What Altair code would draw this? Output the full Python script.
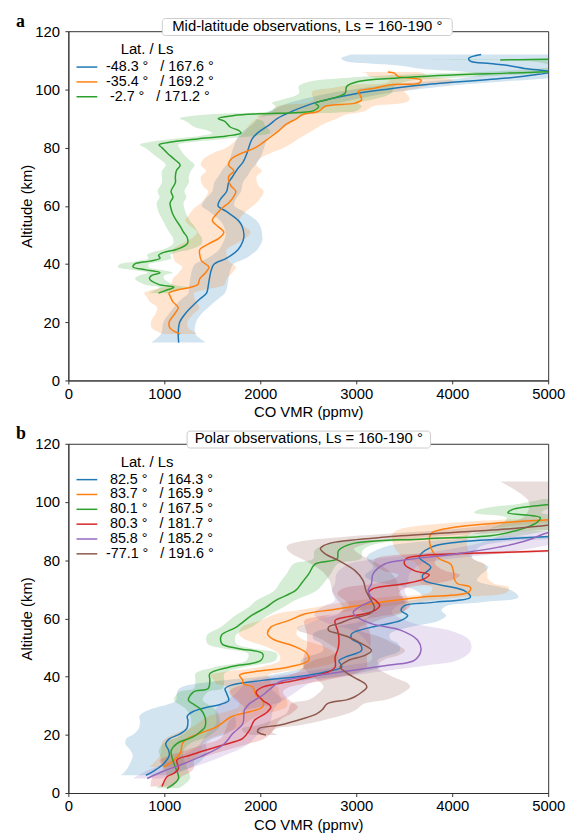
import altair as alt
import pandas as pd

FONT = "Liberation Sans"
X_TICKS = [0, 1000, 2000, 3000, 4000, 5000]
Y_TICKS = [0, 20, 40, 60, 80, 100, 120]
COLORS = ["#1f77b4", "#ff7f0e", "#2ca02c", "#d62728", "#9467bd", "#8c564b"]

TITLE_A = "Mid-latitude observations, Ls = 160-190 °"
TITLE_B = "Polar observations, Ls = 160-190 °"
SEP = "\u00a0°\u00a0\u00a0\u00a0/ "
LEAD = "\u200b\u00a0"
LABELS_A = ["-48.3" + SEP + "167.6\u00a0°",
            "-35.4" + SEP + "169.2\u00a0°",
            LEAD + "-2.7" + SEP + "171.2\u00a0°"]
LABELS_B = [LEAD + "82.5" + SEP + "164.3\u00a0°",
            LEAD + "83.7" + SEP + "165.9\u00a0°",
            LEAD + "80.1" + SEP + "167.5\u00a0°",
            LEAD + "80.3" + SEP + "181.7\u00a0°",
            LEAD + "85.8" + SEP + "185.2\u00a0°",
            "-77.1" + SEP + "191.6\u00a0°"]

# ---------------- panel a : mid-latitude ----------------
A1_ALT = [13, 16, 20, 23, 25, 28, 30, 33, 35, 38, 40, 42, 45, 48, 50, 53, 55, 58, 60, 62,
          65, 68, 70, 73, 75, 78, 80, 83, 85, 88, 90, 92.5, 95.3, 98.7, 100, 101.6, 103.9,
          105.2, 106, 107, 108.3, 108.9, 109.7, 110.7, 112]
A1_VAL = [1150, 1145, 1160, 1220, 1275, 1370, 1440, 1460, 1470, 1490, 1520, 1650, 1770, 1820,
          1830, 1810, 1770, 1650, 1560, 1580, 1650, 1670, 1710, 1770, 1820, 1860, 1880, 1915,
          1970, 2100, 2175, 2333, 2557, 3021, 3300, 3708, 4567, 4900, 5050, 4800, 4567, 4392,
          4189, 4172, 4302]
A1_ERR = [290, 180, 170, 170, 180, 190, 190, 200, 200, 200, 200, 200, 200, 200, 190, 190, 190,
          180, 170, 160, 150, 150, 150, 150, 150, 160, 160, 160, 170, 180, 200, 230, 260, 300,
          330, 380, 450, 600, 900, 1100, 1150, 1250, 1300, 1330, 1350]

A2_ALT = [16, 18, 20, 23, 25, 27, 29, 30, 31, 32, 33, 35, 37, 39, 41, 43, 45, 47, 49, 51, 53,
          55, 57, 59, 61, 63, 65, 67, 70, 72, 74, 76, 78, 80, 83.3, 86, 87.9, 90, 91.3, 92.5,
          94.2, 95.3, 96.4, 98, 99.3, 100.5, 101.6, 102.2, 103.3, 104.5, 105.6, 106]
A2_VAL = [1165, 1060, 1050, 1110, 1145, 1090, 1060, 1050, 1125, 1275, 1350, 1370, 1430, 1465,
          1390, 1370, 1370, 1465, 1575, 1620, 1555, 1500, 1540, 1595, 1670, 1720, 1745, 1690,
          1670, 1725, 1670, 1695, 1800, 1950, 2093, 2200, 2265, 2380, 2437, 2608, 2677, 2987,
          3055, 3040, 3021, 3200, 3364, 3656, 3674, 3433, 3399, 3330]
A2_ERR = [180, 190, 190, 200, 220, 240, 250, 260, 270, 280, 280, 280, 280, 280, 280, 280, 280,
          280, 280, 280, 280, 280, 280, 290, 290, 290, 290, 290, 290, 290, 290, 290, 300, 300,
          320, 350, 380, 420, 450, 480, 500, 500, 500, 500, 480, 450, 400, 350, 320, 300, 300, 300]

A3_ALT = [30, 31, 32, 33, 35, 36, 37, 38, 39, 40, 41, 42, 43, 44, 45, 47, 49, 51, 53, 55, 57,
          59, 61, 63, 65, 68, 70, 72, 74, 76, 78, 80, 81, 82, 83, 84, 85, 86, 87, 89, 90, 91,
          91.6, 92.1, 92.7, 94.2, 95.3, 96.5, 98.7, 101, 102.7, 103.9, 105, 105.6, 106.5, 108,
          109.8, 110.1]
A3_VAL = [940, 1020, 1100, 940, 845, 865, 955, 810, 675, 690, 845, 955, 940, 995, 1125, 1240,
          1240, 1200, 1165, 1125, 1090, 1070, 1060, 1090, 1070, 1115, 1115, 1125, 1165, 1105,
          1035, 975, 945, 1090, 1350, 1650, 1800, 1770, 1690, 1630, 1560, 1725, 1990, 2400,
          2557, 2608, 2574, 2700, 2884, 2900, 3021, 3433, 4052, 4567, 5300, 5800, 5600, 4500]
A3_ERR = [100, 120, 150, 150, 150, 130, 130, 150, 160, 150, 130, 120, 120, 130, 140, 150, 150,
          150, 150, 140, 140, 140, 140, 140, 140, 140, 140, 150, 150, 150, 160, 180, 200, 230,
          260, 280, 300, 330, 370, 400, 400, 400, 400, 420, 450, 450, 450, 470, 480, 500, 500,
          550, 600, 650, 700, 750, 800, 800]

# ---------------- panel b : polar ----------------
B1_ALT = [6.1, 7.8, 10, 12.9, 14.7, 16.9, 18.7, 20.3, 22.3, 24.9, 26.4, 28, 29.3, 30.5, 31.8,
          34.2, 35.8, 37, 38.7, 40, 41.6, 43.3, 45.5, 46.7, 49, 51.3, 53, 54.7, 57, 59.3, 61,
          62.7, 64.4, 65.5, 67.3, 69.6, 73, 74.7, 77.6, 81, 84.4, 86.2, 87.3, 88.2]
B1_VAL = [808, 901, 990, 1051, 1045, 1014, 1055, 1164, 1236, 1246, 1239, 1300, 1427, 1590,
          1671, 1650, 1633, 1690, 2024, 2400, 2677, 2849, 2820, 2884, 3055, 3038, 2952, 2952,
          3158, 3467, 3536, 3467, 3502, 3800, 4189, 4121, 3708, 3690, 3777, 3657, 3777, 4052,
          4567, 5050]
B1_ERR = [260, 300, 350, 380, 400, 420, 450, 480, 500, 500, 500, 500, 520, 550, 550, 520, 480,
          450, 420, 400, 400, 400, 400, 400, 400, 400, 400, 400, 400, 400, 400, 420, 450, 480,
          500, 500, 550, 600, 600, 550, 500, 450, 450, 450]

B2_ALT = [8.9, 10.7, 13.6, 17.6, 20.5, 22.7, 26.2, 27.9, 29.6, 31.9, 33.6, 36.4, 37.6, 38.7,
          40.5, 41.6, 43.3, 45.6, 47.9, 50.2, 53, 54.7, 57, 59.3, 61.6, 63, 64.5, 65.8, 67.3,
          69, 70.7, 72, 74, 75.3, 78.7, 80.5, 84.4, 89, 90.7, 93, 94]
B2_VAL = [993, 1079, 1165, 1199, 1371, 1543, 1700, 1887, 2024, 2024, 1956, 1921, 1818, 1818,
          1784, 1921, 2299, 2505, 2488, 2368, 2127, 2076, 2110, 2299, 2470, 2750, 3050, 3300,
          3674, 4172, 4189, 4052, 4017, 4017, 3983, 3863, 3777, 3777, 3915, 4567, 5050]
B2_ERR = [150, 180, 200, 220, 250, 250, 250, 250, 250, 250, 250, 260, 280, 300, 300, 300, 300,
          300, 300, 300, 300, 300, 300, 300, 300, 320, 350, 380, 400, 400, 400, 380, 350, 350,
          350, 350, 380, 400, 450, 500, 500]

B3_ALT = [1.6, 5, 9, 12.4, 14.6, 17, 19.3, 21.5, 22.7, 26.2, 29, 30.6, 31.9, 34.7, 35.9, 38.7,
          41, 43.3, 45.6, 47.9, 49.6, 51.3, 54.2, 57, 61, 63.8, 66.2, 69.6, 72.5, 75.3, 78.7,
          80.5, 83.3, 85.6, 87.3, 88.4, 90, 91.2, 92.9, 94.6, 96.3, 97.3, 98.3, 99.2, 101]
B3_VAL = [1028, 1148, 1113, 1079, 1072, 1131, 1300, 1390, 1423, 1423, 1371, 1300, 1251, 1302,
          1457, 1474, 1474, 1680, 2007, 2024, 1780, 1600, 1595, 1750, 1910, 2060, 2162, 2368,
          2440, 2505, 2574, 2800, 2815, 2952, 3708, 4400, 4650, 4768, 4880, 4918, 4580, 4620,
          4768, 5020, 5300]
B3_ERR = [120, 120, 120, 120, 130, 140, 150, 150, 150, 150, 150, 150, 150, 150, 150, 150, 150,
          150, 150, 150, 150, 150, 150, 160, 170, 180, 200, 220, 230, 230, 230, 250, 250, 250,
          280, 300, 320, 350, 350, 350, 350, 350, 350, 350, 350]

B4_ALT = [2.2, 5.6, 6.7, 8.5, 11.3, 13, 16.5, 18.8, 21.6, 25, 27.5, 29.6, 31.9, 34.7, 36.4,
          38.7, 41.6, 43.3, 46.7, 50.2, 54.7, 59.3, 60.4, 62.2, 64.4, 66.2, 68.5, 70.2, 71.9,
          73.6, 75, 76.4, 78.7, 80.5, 81.6, 82.7, 83.3]
B4_VAL = [976, 1028, 1096, 1148, 1131, 1268, 1612, 1818, 1887, 1940, 2060, 2110, 2024, 1956,
          2024, 2368, 2711, 2780, 2780, 2815, 2815, 2780, 2884, 3158, 3244, 3200, 3124, 3175,
          3500, 3708, 3760, 3605, 3502, 3519, 3708, 4567, 5050]
B4_ERR = [120, 150, 150, 160, 180, 200, 220, 230, 250, 260, 270, 280, 280, 280, 280, 300, 320,
          330, 330, 330, 330, 320, 320, 320, 320, 320, 320, 320, 320, 320, 320, 320, 320, 320,
          350, 400, 400]

B5_ALT = [5, 7.3, 9.6, 12.4, 16.5, 20.5, 23.9, 28.5, 30.7, 33.6, 36.4, 38.2, 41, 43.9, 45.6,
          49, 52.5, 55.9, 58.2, 61, 62.2, 64.4, 66.2, 69.6, 71.9, 75.3, 78.7, 79.9, 82.2, 85,
          87, 89, 90]
B5_VAL = [822, 976, 1165, 1371, 1612, 1715, 1818, 1835, 1887, 2024, 2127, 2200, 2712, 3330,
          3605, 3674, 3640, 3467, 3158, 2987, 2969, 3055, 3158, 3124, 3158, 3175, 3296, 3467,
          4052, 4567, 4800, 4950, 5050]
B5_ERR = [150, 180, 200, 220, 250, 270, 280, 300, 300, 300, 320, 350, 380, 420, 450, 520, 540,
          500, 450, 420, 400, 380, 380, 380, 380, 380, 380, 380, 400, 400, 400, 400, 400]

B6_ALT = [19.9, 21, 22.2, 23.3, 25.6, 27.3, 28.5, 30.7, 32, 33, 34.7, 36.4, 37.6, 39.5, 41.3,
          43.3, 45.6, 47.3, 49, 51.3, 53.6, 54.7, 55.9, 57, 58.2, 60, 61.6, 63.5, 65, 67, 69.6,
          73, 76.4, 79.9, 82.2, 83.9, 85, 86.2, 88.1, 90.7, 92.3, 95, 100, 107]
B6_VAL = [2059, 1973, 1990, 2196, 2450, 2591, 2643, 2700, 2900, 2980, 3060, 3110, 3090, 2990,
          2900, 2832, 2918, 3090, 3158, 3055, 2918, 2815, 2712, 2712, 2815, 2960, 3141, 3190,
          3176, 3140, 3100, 3072, 2987, 2815, 2677, 2626, 2660, 2780, 3364, 4567, 5050, 5500,
          5600, 5300]
B6_ERR = [130, 150, 180, 220, 280, 320, 350, 380, 400, 420, 440, 450, 450, 420, 400, 380, 360,
          350, 350, 340, 330, 320, 320, 320, 320, 320, 320, 330, 340, 350, 350, 350, 350, 350,
          350, 350, 380, 400, 450, 550, 650, 750, 800, 800]


def make_df(labels, alts, vals, errs):
    rows = []
    for k, (lab, al, vl, el) in enumerate(zip(labels, alts, vals, errs)):
        for i, (a, v, e) in enumerate(zip(al, vl, el)):
            rows.append({"series": lab, "col": COLORS[k], "alt": a, "val": v,
                         "lo": v - e, "hi": v + e, "idx": i})
    return pd.DataFrame(rows)


DF_A = make_df(LABELS_A, [A1_ALT, A2_ALT, A3_ALT], [A1_VAL, A2_VAL, A3_VAL],
               [A1_ERR, A2_ERR, A3_ERR])
DF_B = make_df(LABELS_B, [B1_ALT, B2_ALT, B3_ALT, B4_ALT, B5_ALT, B6_ALT],
               [B1_VAL, B2_VAL, B3_VAL, B4_VAL, B5_VAL, B6_VAL],
               [B1_ERR, B2_ERR, B3_ERR, B4_ERR, B5_ERR, B6_ERR])

W, H = 485, 353


def panel(df, labels, title, letter, box):
    xs = alt.Scale(domain=[0, 5000], nice=False, zero=False)
    ys = alt.Scale(domain=[0, 120], nice=False, zero=False)
    cs_line = alt.Scale(domain=labels, range=COLORS[:len(labels)])
    xaxis = alt.Axis(values=X_TICKS, title="CO VMR (ppmv)", tickSize=3.5, labelPadding=2.5,
                     titlePadding=3.5, labelFlush=False, grid=False, format="d")
    yaxis = alt.Axis(values=Y_TICKS, title="Altitude (km)", tickSize=3.5, labelPadding=5.5,
                     titleX=-34, titleY=H / 2, grid=False, format="d")
    bands = alt.Chart(df).mark_area(orient="horizontal", opacity=0.2, clip=True,
                                    interpolate="catmull-rom").encode(
        y=alt.Y("alt:Q", scale=ys, axis=yaxis),
        x=alt.X("lo:Q", scale=xs, axis=xaxis),
        x2=alt.X2("hi:Q"),
        fill=alt.Fill("col:N", scale=None),
        detail="series:N",
    )
    lines = alt.Chart(df).mark_line(strokeWidth=1.5, clip=True,
                                    interpolate="catmull-rom").encode(
        y=alt.Y("alt:Q", scale=ys, axis=yaxis),
        x=alt.X("val:Q", scale=xs, axis=xaxis),
        stroke=alt.Stroke("series:N", scale=cs_line, legend=alt.Legend(
            title="Lat. / Ls", orient="none", legendX=11.5, legendY=11.5,
            titleAnchor="middle", titleFontWeight="normal", titleFontSize=15,
            titleFont=FONT, titleColor="black", titlePadding=2.5,
            labelFont=FONT, labelFontSize=14.5, labelColor="black", labelOffset=12,
            labelLimit=300, symbolType="M-3,0H3", symbolSize=49, symbolStrokeWidth=1.5,
            rowPadding=0, padding=0)),
        order=alt.Order("idx:Q"),
    )
    tdf = pd.DataFrame({"t": [title]})
    rect = alt.Chart(tdf).mark_rect(fill="white", stroke="#cccccc", strokeWidth=1,
                                    cornerRadius=3).encode(
        x=alt.value(box[0]), x2=alt.value(box[1]), y=alt.value(-12.8), y2=alt.value(4.3))
    ttext = alt.Chart(tdf).mark_text(font=FONT, fontSize=15, align="center",
                                     baseline="middle", color="black").encode(
        x=alt.value((box[0] + box[1]) / 2), y=alt.value(-5.5), text="t:N")
    ldf = pd.DataFrame({"l": [letter]})
    ltext = alt.Chart(ldf).mark_text(font="Liberation Serif", fontSize=18, fontWeight="bold",
                                     align="left", baseline="alphabetic", color="black").encode(
        x=alt.value(-53), y=alt.value(-4.5), text="l:N")
    return alt.layer(bands, lines, rect, ttext, ltext).properties(width=W, height=H)


pa = panel(DF_A, LABELS_A, TITLE_A, "a", (95, 388))
pb = panel(DF_B, LABELS_B, TITLE_B, "b", (120, 366))

chart = alt.vconcat(pa, pb, spacing=5).resolve_scale(
    stroke="independent", x="independent", y="independent"
).resolve_legend(
    stroke="independent"
).properties(
    padding={"left": 7, "top": 0, "right": 0, "bottom": 0}
).configure_view(
    stroke="#333333", strokeWidth=1
).configure_axis(
    domainColor="#333333", tickColor="#333333", labelColor="black", titleColor="black",
    labelFont=FONT, titleFont=FONT, labelFontSize=15, titleFontSize=15,
    titleFontWeight="normal"
)

chart.save("out.html", embed_options={"renderer": "svg", "actions": False})
